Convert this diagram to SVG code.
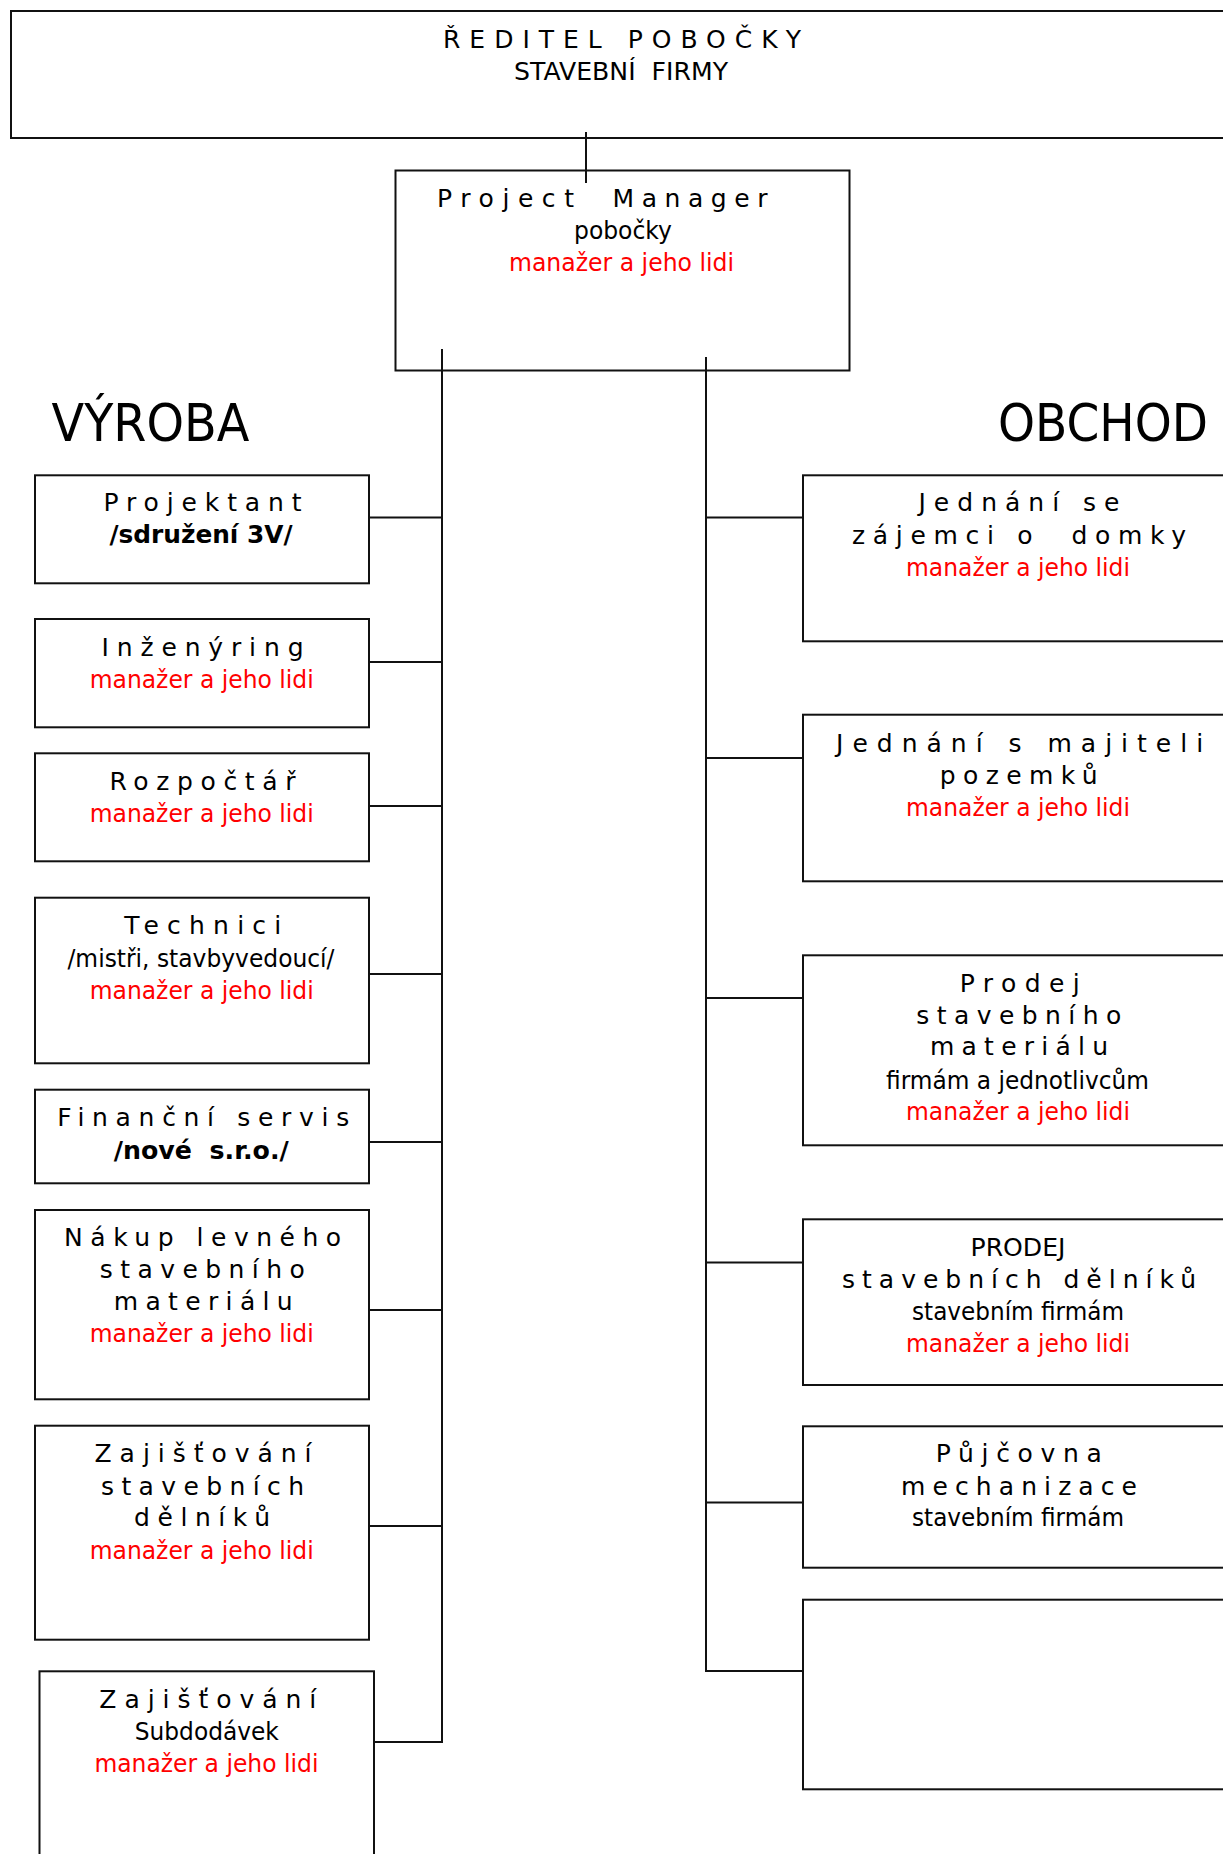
<svg xmlns="http://www.w3.org/2000/svg" width="1223" height="1854" viewBox="0 0 1223 1854">
<style>
  .box { fill: #fff; stroke: #111; stroke-width: 2; }
  .ln { stroke: #111; stroke-width: 2; fill: none; }
  text { font-family: "DejaVu Sans", "Liberation Sans", sans-serif; font-size: 25px; fill: #000; text-anchor: middle; }
  .r { fill: #ff0000; }
  .b { font-weight: bold; }
  .h { font-size: 52px; text-anchor: start; }
  .s { text-anchor: start; }
</style>
<rect width="1223" height="1854" fill="#fff"/>

<g id="connectors">
  <line class="ln" x1="586" y1="132" x2="586" y2="183"/>
  <line class="ln" x1="442" y1="349" x2="442" y2="1743"/>
  <line class="ln" x1="706" y1="357" x2="706" y2="1672"/>
  <line class="ln" x1="369" y1="517.5" x2="442" y2="517.5"/>
  <line class="ln" x1="369" y1="662" x2="442" y2="662"/>
  <line class="ln" x1="369" y1="806" x2="442" y2="806"/>
  <line class="ln" x1="369" y1="974" x2="442" y2="974"/>
  <line class="ln" x1="369" y1="1142" x2="442" y2="1142"/>
  <line class="ln" x1="369" y1="1310" x2="442" y2="1310"/>
  <line class="ln" x1="369" y1="1526" x2="442" y2="1526"/>
  <line class="ln" x1="374" y1="1742" x2="443" y2="1742"/>
  <line class="ln" x1="706" y1="517.5" x2="803" y2="517.5"/>
  <line class="ln" x1="706" y1="758" x2="803" y2="758"/>
  <line class="ln" x1="706" y1="998" x2="803" y2="998"/>
  <line class="ln" x1="706" y1="1262.5" x2="803" y2="1262.5"/>
  <line class="ln" x1="706" y1="1502.5" x2="803" y2="1502.5"/>
  <line class="ln" x1="705" y1="1671" x2="803" y2="1671"/>
</g>

<g id="reditel">
  <rect class="box" x="11" y="11" width="1240" height="127" style="fill:none"/>
  <text x="622" y="48" textLength="358" lengthAdjust="spacing">ŘEDITEL POBOČKY</text>
  <text x="621" y="80" textLength="214" lengthAdjust="spacingAndGlyphs" xml:space="preserve">STAVEBNÍ  FIRMY</text>
</g>

<g id="project-manager">
  <rect class="box" x="395.5" y="170.5" width="454" height="200" style="fill:none"/>
  <text class="s" y="207"><tspan x="437" textLength="137" lengthAdjust="spacing">Project</tspan><tspan x="612.5" textLength="155" lengthAdjust="spacing">Manager</tspan></text>
  <text x="623" y="239" textLength="98" lengthAdjust="spacingAndGlyphs">pobočky</text>
  <text class="r" x="621.5" y="271" textLength="225" lengthAdjust="spacingAndGlyphs">manažer a jeho lidi</text>
</g>

<g id="vyroba-title">
  <text class="h" transform="translate(51.5 441) scale(0.918 1)" x="0" y="0">VÝROBA</text>
</g>
<g id="obchod-title">
  <text class="h" transform="translate(998 441) scale(0.905 1)" x="0" y="0">OBCHOD</text>
</g>

<g id="projektant">
  <rect class="box" x="35" y="475.3" width="334" height="108"/>
  <text x="202.5" y="511" textLength="198" lengthAdjust="spacing">Projektant</text>
  <text class="b" x="201" y="543" textLength="183" lengthAdjust="spacingAndGlyphs">/sdružení 3V/</text>
</g>

<g id="inzenyring">
  <rect class="box" x="35" y="619" width="334" height="108.3"/>
  <text x="202.5" y="656" textLength="202" lengthAdjust="spacing">Inženýring</text>
  <text class="r" x="201.7" y="687.5" textLength="224" lengthAdjust="spacingAndGlyphs">manažer a jeho lidi</text>
</g>

<g id="rozpoctar">
  <rect class="box" x="35" y="753.3" width="334" height="108"/>
  <text x="202.5" y="789.5" textLength="186" lengthAdjust="spacing">Rozpočtář</text>
  <text class="r" x="201.7" y="822" textLength="224" lengthAdjust="spacingAndGlyphs">manažer a jeho lidi</text>
</g>

<g id="technici">
  <rect class="box" x="35" y="897.7" width="334" height="165.6"/>
  <text x="202.7" y="934" textLength="157" lengthAdjust="spacing">Technici</text>
  <text x="201" y="967" textLength="267" lengthAdjust="spacingAndGlyphs">/mistři, stavbyvedoucí/</text>
  <text class="r" x="201.7" y="998.5" textLength="224" lengthAdjust="spacingAndGlyphs">manažer a jeho lidi</text>
</g>

<g id="financni-servis">
  <rect class="box" x="35" y="1089.7" width="334" height="93.6"/>
  <text x="203.2" y="1126" textLength="292" lengthAdjust="spacing">Finanční servis</text>
  <text class="b" x="201.3" y="1158.5" textLength="175" lengthAdjust="spacingAndGlyphs" xml:space="preserve">/nové  s.r.o./</text>
</g>

<g id="nakup">
  <rect class="box" x="35" y="1210" width="334" height="189.3"/>
  <text x="202.6" y="1246" textLength="277" lengthAdjust="spacing">Nákup levného</text>
  <text x="202.3" y="1277.5" textLength="205" lengthAdjust="spacing">stavebního</text>
  <text x="203.2" y="1309.5" textLength="179" lengthAdjust="spacing">materiálu</text>
  <text class="r" x="201.7" y="1342" textLength="224" lengthAdjust="spacingAndGlyphs">manažer a jeho lidi</text>
</g>

<g id="zajistovani-delniku">
  <rect class="box" x="35" y="1425.7" width="334" height="214"/>
  <text x="203" y="1462" textLength="217" lengthAdjust="spacing">Zajišťování</text>
  <text x="202.5" y="1495" textLength="203" lengthAdjust="spacing">stavebních</text>
  <text x="202" y="1526" textLength="136" lengthAdjust="spacing">dělníků</text>
  <text class="r" x="201.7" y="1558.5" textLength="224" lengthAdjust="spacingAndGlyphs">manažer a jeho lidi</text>
</g>

<g id="zajistovani-subdodavek">
  <rect class="box" x="39.5" y="1671.3" width="334.5" height="220"/>
  <text x="207.8" y="1707.5" textLength="217" lengthAdjust="spacing">Zajišťování</text>
  <text x="206.8" y="1739.5" textLength="144" lengthAdjust="spacingAndGlyphs">Subdodávek</text>
  <text class="r" x="206.4" y="1772" textLength="224" lengthAdjust="spacingAndGlyphs">manažer a jeho lidi</text>
</g>

<g id="jednani-zajemci">
  <rect class="box" x="803" y="475.3" width="450" height="166"/>
  <text x="1019" y="511" textLength="201" lengthAdjust="spacing">Jednání se</text>
  <text x="1019" y="544" textLength="334" lengthAdjust="spacing" xml:space="preserve">zájemci o  domky</text>
  <text class="r" x="1018" y="576" textLength="224" lengthAdjust="spacingAndGlyphs">manažer a jeho lidi</text>
</g>

<g id="jednani-majitele">
  <rect class="box" x="803" y="714.7" width="450" height="166.6"/>
  <text x="1019.6" y="752" textLength="367" lengthAdjust="spacing">Jednání s majiteli</text>
  <text x="1018.7" y="783.5" textLength="158" lengthAdjust="spacing">pozemků</text>
  <text class="r" x="1018" y="816" textLength="224" lengthAdjust="spacingAndGlyphs">manažer a jeho lidi</text>
</g>

<g id="prodej-materialu">
  <rect class="box" x="803" y="955.3" width="450" height="190"/>
  <text x="1019.7" y="992" textLength="120" lengthAdjust="spacing">Prodej</text>
  <text x="1018.8" y="1024" textLength="205" lengthAdjust="spacing">stavebního</text>
  <text x="1019" y="1055" textLength="178" lengthAdjust="spacing">materiálu</text>
  <text x="1017.5" y="1088.5" textLength="263" lengthAdjust="spacingAndGlyphs">firmám a jednotlivcům</text>
  <text class="r" x="1018" y="1120" textLength="224" lengthAdjust="spacingAndGlyphs">manažer a jeho lidi</text>
</g>

<g id="prodej-delniku">
  <rect class="box" x="803" y="1219.3" width="450" height="165.7"/>
  <text x="1018" y="1256" textLength="95" lengthAdjust="spacingAndGlyphs">PRODEJ</text>
  <text x="1019" y="1287.5" textLength="354" lengthAdjust="spacing">stavebních dělníků</text>
  <text x="1018" y="1319.5" textLength="212" lengthAdjust="spacingAndGlyphs">stavebním firmám</text>
  <text class="r" x="1018" y="1352" textLength="224" lengthAdjust="spacingAndGlyphs">manažer a jeho lidi</text>
</g>

<g id="pujcovna">
  <rect class="box" x="803" y="1426.3" width="450" height="141.4"/>
  <text x="1018.8" y="1462" textLength="166" lengthAdjust="spacing">Půjčovna</text>
  <text x="1019" y="1495" textLength="236" lengthAdjust="spacing">mechanizace</text>
  <text x="1018" y="1526" textLength="212" lengthAdjust="spacingAndGlyphs">stavebním firmám</text>
</g>

<g id="empty-box">
  <rect class="box" x="803" y="1599.7" width="450" height="189.6"/>
</g>
</svg>
